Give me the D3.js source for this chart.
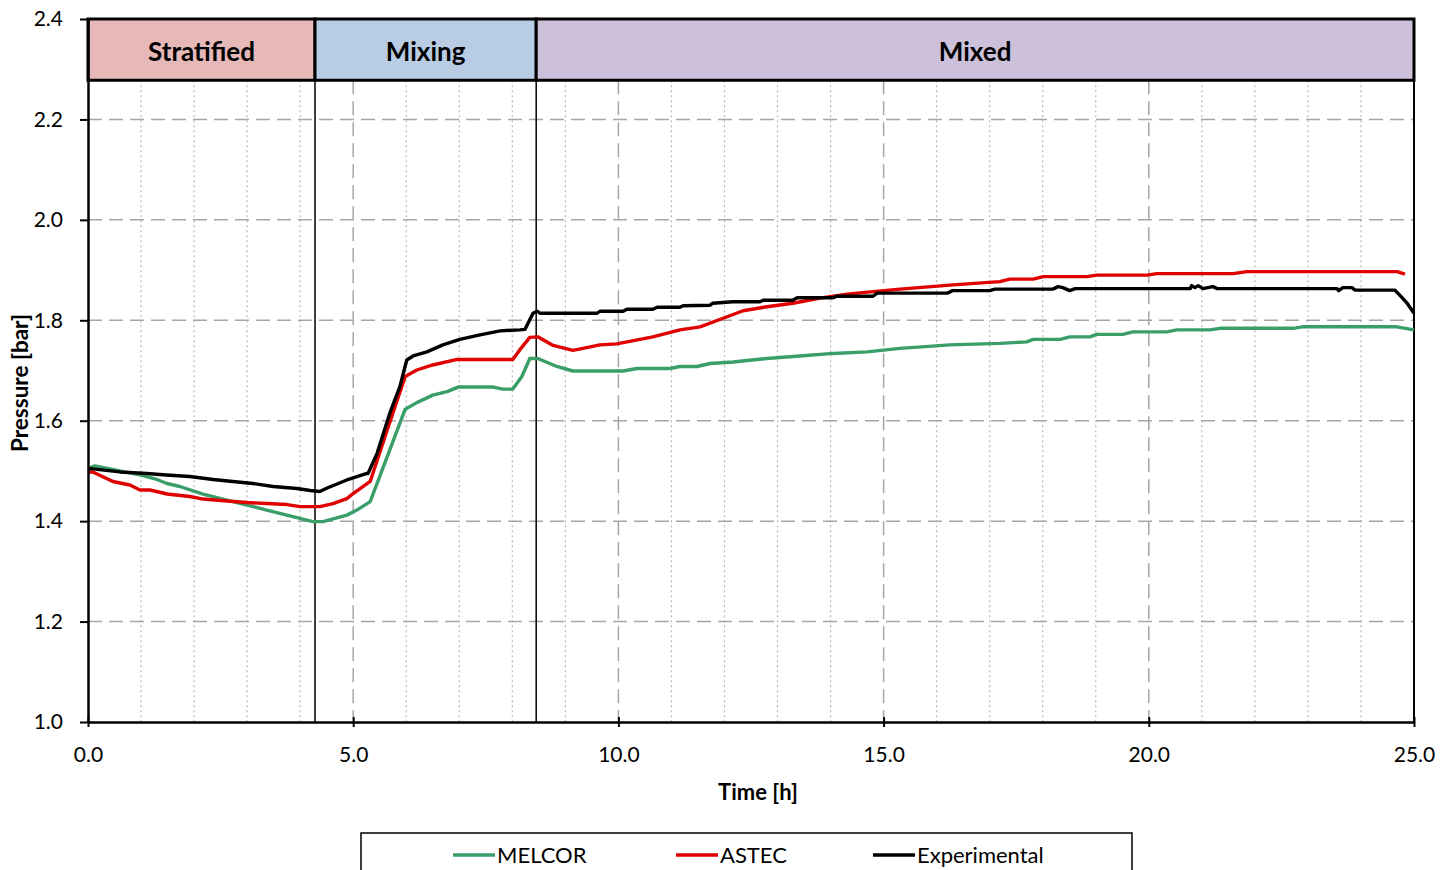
<!DOCTYPE html>
<html>
<head>
<meta charset="utf-8">
<script src="https://cdn.jsdelivr.net/npm/d3@7"></script>
<style>
  body { margin: 0; background: #fff; }
  svg { display: block; font-family: Lato, "Open Sans", sans-serif; }
</style>
</head>
<body>
<svg id="chart" width="1454" height="870"></svg>
<script>
// Pressure histories [time h, pressure bar]
const melcor = [[0,1.505],[0.13,1.510],[0.60,1.500],[0.98,1.492],[1.30,1.483],[1.49,1.475],[1.73,1.469],[2.17,1.454],[2.62,1.442],[3.00,1.432],[3.37,1.422],[3.75,1.412],[4.24,1.399],[4.43,1.399],[4.88,1.412],[5.07,1.422],[5.32,1.439],[5.64,1.528],[5.98,1.623],[6.20,1.636],[6.50,1.651],[6.77,1.658],[6.98,1.667],[7.64,1.667],[7.82,1.663],[8.01,1.663],[8.18,1.688],[8.33,1.724],[8.48,1.724],[8.84,1.708],[9.14,1.699],[10.09,1.699],[10.35,1.704],[10.97,1.704],[11.16,1.708],[11.48,1.708],[11.73,1.714],[12.16,1.717],[12.80,1.724],[13.42,1.729],[14.05,1.734],[14.69,1.737],[15.31,1.744],[16.25,1.751],[17.19,1.754],[17.70,1.757],[17.82,1.762],[18.33,1.762],[18.51,1.767],[18.89,1.767],[19.02,1.772],[19.51,1.772],[19.70,1.777],[20.34,1.777],[20.53,1.781],[21.15,1.781],[21.34,1.784],[22.72,1.784],[22.89,1.787],[24.68,1.787],[25.0,1.781]];

const astec = [[0,1.498],[0.09,1.498],[0.47,1.479],[0.79,1.472],[0.98,1.462],[1.17,1.462],[1.49,1.454],[1.92,1.449],[2.17,1.444],[2.62,1.440],[3.00,1.437],[3.37,1.435],[3.75,1.433],[4.00,1.429],[4.37,1.429],[4.62,1.435],[4.88,1.445],[5.00,1.455],[5.32,1.479],[5.64,1.581],[5.98,1.688],[6.20,1.701],[6.50,1.711],[6.96,1.722],[8.01,1.722],[8.14,1.741],[8.33,1.766],[8.48,1.767],[8.77,1.750],[9.14,1.740],[9.33,1.744],[9.65,1.751],[9.97,1.753],[10.65,1.767],[11.16,1.781],[11.54,1.787],[12.05,1.807],[12.35,1.819],[12.80,1.827],[13.29,1.834],[13.80,1.844],[14.31,1.852],[14.80,1.857],[15.31,1.862],[16.25,1.870],[17.19,1.877],[17.38,1.882],[17.82,1.882],[18.01,1.887],[18.83,1.887],[19.02,1.890],[19.97,1.890],[20.15,1.893],[21.59,1.893],[21.85,1.897],[24.68,1.897],[24.83,1.892]];

const experimental = [[0,1.505],[0.60,1.498],[1.11,1.495],[1.48,1.492],[1.92,1.489],[2.36,1.483],[2.73,1.479],[3.11,1.475],[3.49,1.469],[3.94,1.465],[4.19,1.461],[4.37,1.459],[4.51,1.466],[4.88,1.482],[5.26,1.495],[5.28,1.495],[5.45,1.535],[5.69,1.615],[5.88,1.668],[6.01,1.721],[6.13,1.729],[6.39,1.737],[6.69,1.751],[7.01,1.762],[7.39,1.771],[7.77,1.779],[8.14,1.781],[8.24,1.782],[8.39,1.814],[8.47,1.818],[8.52,1.814],[9.60,1.814],[9.65,1.818],[10.09,1.818],[10.16,1.822],[10.65,1.822],[10.73,1.826],[11.16,1.826],[11.22,1.829],[11.73,1.830],[11.78,1.834],[12.16,1.837],[12.67,1.837],[12.73,1.840],[13.29,1.840],[13.37,1.845],[14.05,1.845],[14.12,1.848],[14.80,1.848],[14.88,1.854],[16.20,1.854],[16.30,1.859],[17.00,1.859],[17.10,1.862],[18.19,1.862],[18.29,1.867],[18.38,1.865],[18.51,1.859],[18.61,1.863],[20.78,1.863],[20.81,1.869],[20.87,1.865],[20.93,1.869],[21.02,1.863],[21.21,1.867],[21.29,1.863],[23.55,1.863],[23.58,1.859],[23.66,1.865],[23.83,1.865],[23.89,1.860],[24.64,1.860],[24.74,1.849],[24.87,1.834],[25.0,1.814]];

// Flow regimes shown in the header band
const phaseNames = ["Stratified", "Mixing", "Mixed"];
const phaseStart = [0, 4.28, 8.45];
const phaseEnd = [4.28, 8.45, 25];
const phaseColors = ["#e6b8b7", "#b8cce4", "#ccc0da"];

const seriesNames = ["MELCOR", "ASTEC", "Experimental"];
const seriesColors = ["#3a9e68", "#e00000", "#000000"];
const seriesData = [melcor, astec, experimental];

const xTicks = [0, 5, 10, 15, 20, 25];
const xMinor = d3.range(1, 25).filter(d => d % 5 !== 0);
const yTicks = [1.0, 1.2, 1.4, 1.6, 1.8, 2.0, 2.2, 2.4];

const svg = d3.select("#chart");
const plotLeft = 88, plotRight = 1414, plotTop = 19, plotBottom = 722;

const x = d3.scaleLinear().domain([0, 25]).range([plotLeft, plotRight]);
const y = d3.scaleLinear().domain([1.0, 2.4]).range([plotBottom, plotTop]);
const bandBottom = y(2.278);

// Grid
const grid = svg.append("g");
grid.selectAll(".minor").data(xMinor).join("line")
  .attr("x1", d => x(d)).attr("x2", d => x(d))
  .attr("y1", bandBottom).attr("y2", plotBottom)
  .attr("stroke", "#b8b8b8").attr("stroke-width", 1.2).attr("stroke-dasharray", "2,3");
grid.selectAll(".major").data(xTicks.filter(d => d > 0 && d < 25)).join("line")
  .attr("x1", d => x(d)).attr("x2", d => x(d))
  .attr("y1", bandBottom).attr("y2", plotBottom)
  .attr("stroke", "#a6a6a6").attr("stroke-width", 1.5).attr("stroke-dasharray", "14,7");
grid.selectAll(".hgrid").data(yTicks.filter(d => d > 1.0 && d < 2.3)).join("line")
  .attr("x1", plotLeft).attr("x2", plotRight)
  .attr("y1", d => y(d)).attr("y2", d => y(d))
  .attr("stroke", "#a6a6a6").attr("stroke-width", 1.5).attr("stroke-dasharray", "14,7");

// Phase separators
svg.selectAll(".sep").data(phaseStart.slice(1)).join("line")
  .attr("x1", d => x(d)).attr("x2", d => x(d))
  .attr("y1", bandBottom).attr("y2", plotBottom)
  .attr("stroke", "#000").attr("stroke-width", 1.5);

// Right border
svg.append("line").attr("x1", plotRight).attr("x2", plotRight).attr("y1", plotTop).attr("y2", plotBottom)
  .attr("stroke", "#000").attr("stroke-width", 2);

// Series
const line = d3.line().x(d => x(d[0])).y(d => y(d[1]));
svg.selectAll(".series").data(seriesData).join("path")
  .attr("d", line)
  .attr("fill", "none")
  .attr("stroke", (d, i) => seriesColors[i])
  .attr("stroke-width", 3.4)
  .attr("stroke-linejoin", "round");

// Header band
const band = svg.append("g");
band.selectAll("rect").data(phaseNames).join("rect")
  .attr("x", (d, i) => x(phaseStart[i])).attr("y", plotTop)
  .attr("width", (d, i) => x(phaseEnd[i]) - x(phaseStart[i]))
  .attr("height", bandBottom - plotTop)
  .attr("fill", (d, i) => phaseColors[i])
  .attr("stroke", "#000").attr("stroke-width", 3);
band.selectAll("text").data(phaseNames).join("text")
  .attr("x", (d, i) => (x(phaseStart[i]) + x(phaseEnd[i])) / 2)
  .attr("y", 61)
  .attr("text-anchor", "middle")
  .attr("font-size", 26).attr("font-weight", "bold")
  .text(d => d);

// Axes
const yAxis = svg.append("g").attr("transform", `translate(${plotLeft},0)`)
  .call(d3.axisLeft(y).tickValues(yTicks).tickFormat(d3.format(".1f")).tickSize(8).tickSizeOuter(0).tickPadding(17));
const xAxis = svg.append("g").attr("transform", `translate(0,${plotBottom})`)
  .call(d3.axisBottom(x).tickValues(xTicks).tickFormat(d3.format(".1f")).tickSize(5).tickSizeOuter(0).tickPadding(20));
[xAxis, yAxis].forEach(a => {
  a.select(".domain").attr("stroke", "#000").attr("stroke-width", 2.5);
  a.selectAll(".tick line").attr("stroke", "#000").attr("stroke-width", 2);
  a.selectAll(".tick text").attr("font-size", 21).attr("fill", "#000")
    .attr("font-family", "Lato, 'Open Sans', sans-serif");
});
xAxis.selectAll(".tick line").attr("y1", -5);

// Axis titles
svg.append("text").attr("x", 758).attr("y", 800)
  .attr("text-anchor", "middle").attr("font-size", 22).attr("font-weight", "bold").text("Time [h]");
svg.append("text").attr("transform", "translate(28,383) rotate(-90)")
  .attr("text-anchor", "middle").attr("font-size", 22.5).attr("font-weight", "bold").text("Pressure [bar]");

// Legend
const legend = svg.append("g");
legend.append("rect").attr("x", 361).attr("y", 833).attr("width", 771).attr("height", 60)
  .attr("fill", "#fff").attr("stroke", "#000").attr("stroke-width", 1.5);
const legendX = [453, 676, 873];
seriesNames.forEach((name, i) => {
  legend.append("line").attr("x1", legendX[i]).attr("x2", legendX[i] + 42)
    .attr("y1", 855).attr("y2", 855)
    .attr("stroke", seriesColors[i]).attr("stroke-width", 3.4);
  legend.append("text").attr("x", legendX[i] + 44).attr("y", 863)
    .attr("font-size", 22).text(name);
});
</script>
</body>
</html>
